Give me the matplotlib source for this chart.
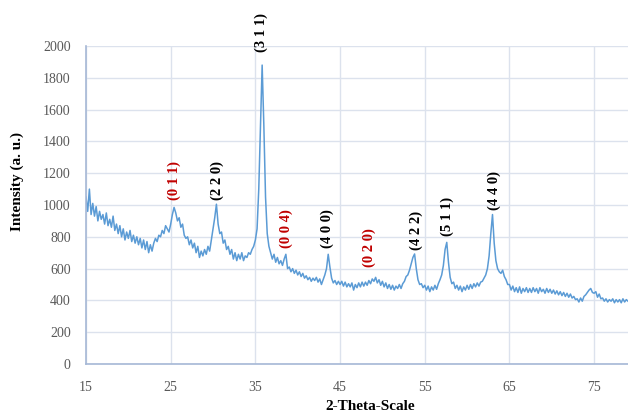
#!/usr/bin/env python3
"""XRD pattern with indexed reflections."""

import numpy as np
import matplotlib.pyplot as plt

plt.rcParams.update({
    'font.family': ['Liberation Serif', 'DejaVu Serif'],
    'font.size': 10,
})

# =============================================================================
# Data: 2-theta from 15 to 79 deg, step 0.2 deg
# =============================================================================
two_theta = np.round(np.arange(15.0, 79.01, 0.2), 1)

intensity = np.array([
    1050, 960, 1100, 940, 1010,   # 15
    930, 990, 900, 960, 910,      # 16
    940, 880, 950, 870, 910,      # 17
    860, 930, 840, 880, 820,      # 18
    870, 800, 850, 780, 830,      # 19
    790, 840, 770, 810, 760,      # 20
    800, 750, 790, 730, 780,      # 21
    720, 770, 700, 750, 710,      # 22
    760, 790, 770, 810, 800,      # 23
    840, 820, 870, 850, 830,      # 24
    880, 940, 985, 950, 900,      # 25
    920, 860, 880, 810, 790,      # 26
    800, 750, 780, 730, 760,      # 27
    700, 740, 670, 710, 680,      # 28
    720, 690, 740, 710, 780,      # 29
    850, 920, 1005, 880, 820,     # 30
    830, 760, 780, 720, 740,      # 31
    690, 720, 660, 700, 650,      # 32
    690, 660, 700, 650, 680,      # 33
    670, 700, 690, 720, 740,      # 34
    780, 850, 1100, 1500, 1880,   # 35
    1500, 1050, 820, 740, 700,    # 36
    660, 690, 640, 670, 630,      # 37
    650, 620, 660, 690, 600,      # 38
    610, 580, 600, 570, 590,      # 39
    560, 580, 550, 570, 540,      # 40
    555, 530, 545, 520, 540,      # 41
    525, 545, 515, 535, 500,      # 42
    530, 560, 600, 690, 610,      # 43
    540, 510, 525, 500, 520,      # 44
    500, 520, 490, 515, 485,      # 45
    505, 485, 510, 465, 500,      # 46
    480, 510, 485, 515, 490,      # 47
    515, 495, 525, 505, 535,      # 48
    520, 545, 510, 530, 495,      # 49
    520, 485, 510, 475, 500,      # 50
    470, 495, 465, 490, 475,      # 51
    500, 475, 505, 520, 550,      # 52
    560, 590, 630, 670, 692,      # 53
    600, 530, 500, 505, 480,      # 54
    495, 465, 490, 455, 485,      # 55
    465, 495, 470, 505, 530,      # 56
    560, 620, 720, 765, 640,      # 57
    545, 505, 515, 475, 495,      # 58
    465, 490, 455, 485, 465,      # 59
    495, 470, 500, 475, 505,      # 60
    485, 510, 490, 515, 520,      # 61
    540, 560, 600, 680, 820,      # 62
    940, 760, 650, 600, 580,      # 63
    570, 590, 550, 530, 500,      # 64
    500, 465, 490, 455, 480,      # 65
    450, 485, 445, 475, 455,      # 66
    480, 450, 475, 450, 480,      # 67
    455, 475, 445, 480, 455,      # 68
    470, 445, 475, 450, 470,      # 69
    445, 465, 440, 460, 435,      # 70
    455, 430, 450, 425, 445,      # 71
    420, 440, 415, 425, 405,      # 72
    410, 390, 415, 395, 425,      # 73
    435, 450, 465, 475, 450,      # 74
    445, 455, 420, 440, 410,      # 75
    415, 395, 410, 390, 405,      # 76
    395, 410, 385, 405, 390,      # 77
    405, 385, 410, 390, 405,      # 78
    395,                          # 79
])

# Reflection labels: (text, 2-theta, label centre height, colour)
peak_labels = ['(0 1 1)', '(2 2 0)', '(3 1 1)', '(0 0 4)', '(4 0 0)',
               '(0 2 0)', '(4 2 2)', '(5 1 1)', '(4 4 0)']
peak_pos = [25.4, 30.5, 35.7, 38.7, 43.5, 48.4, 54.0, 57.6, 63.2]
peak_y = [1151, 1157, 2082, 849, 849, 730, 843, 925, 1094]
peak_red = [True, False, False, True, False, True, False, False, False]

x_ticks = [15, 25, 35, 45, 55, 65, 75]
y_ticks = list(range(0, 2001, 200))

# =============================================================================
# Plot
# =============================================================================
LINE = '#5b9bd5'
GRID = '#dce2ed'
SPINE = '#a6b8d6'
TICK = '#595959'
RED = '#c00000'

fig = plt.figure(figsize=(6.28, 4.15), dpi=100)
ax = fig.add_axes([86 / 628, 1 - 364 / 415, 1 - 86 / 628, (364 - 46) / 415])

ax.plot(two_theta, intensity, color=LINE, lw=1.1)

for txt, x, y, red in zip(peak_labels, peak_pos, peak_y, peak_red):
    ax.text(x, y, txt, rotation=90, ha='center', va='center',
            fontsize=10.5, fontweight='bold',
            color=RED if red else 'black', clip_on=False)

ax.set_xlim(15, 79)
ax.set_ylim(0, 2000)
ax.set_xticks(x_ticks)
ax.set_yticks(y_ticks)
ax.tick_params(length=0, labelsize=10, labelcolor=TICK)
ax.tick_params(axis='y', pad=11)
ax.tick_params(axis='x', pad=12)
ax.grid(True, color=GRID, lw=1.0)
ax.set_axisbelow(True)
for side in ('top', 'right'):
    ax.spines[side].set_visible(False)
for side in ('left', 'bottom'):
    ax.spines[side].set_color(SPINE)
    ax.spines[side].set_linewidth(1.2)

fig.text(370 / 628, 1 - 406 / 415, '2-Theta-Scale', ha='center', va='center',
         fontsize=11, fontweight='bold')
fig.text(17.5 / 628, 1 - 181 / 415, 'Intensity (a. u.)', rotation=90,
         ha='center', va='center', fontsize=11, fontweight='bold')

fig.savefig('out.png', dpi=100)
